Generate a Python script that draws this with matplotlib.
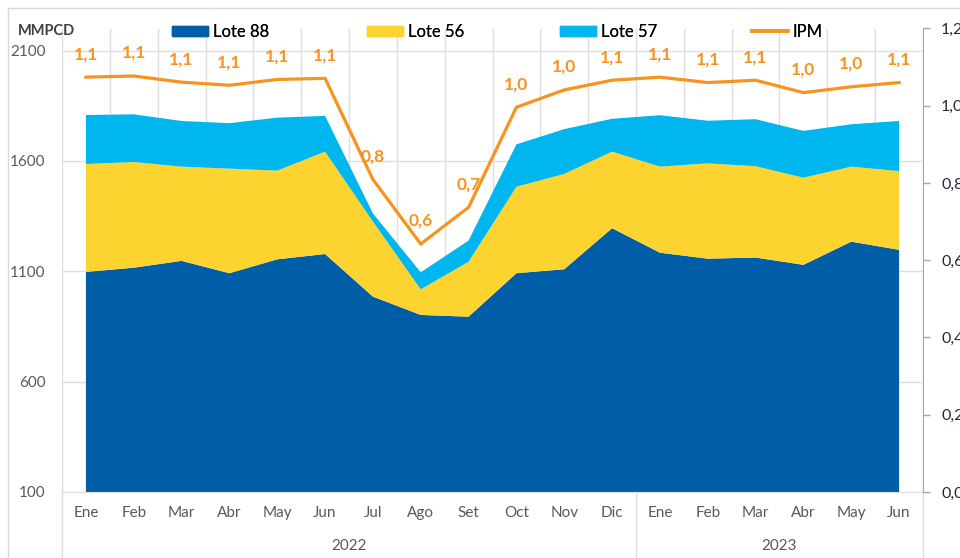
import matplotlib
matplotlib.use("Agg")
import matplotlib.pyplot as plt
import numpy as np
from matplotlib.patches import Patch
from matplotlib.lines import Line2D
from matplotlib.ticker import FuncFormatter

plt.rcParams['font.family'] = ['Lato', 'DejaVu Sans']

months = ["Ene", "Feb", "Mar", "Abr", "May", "Jun", "Jul", "Ago", "Set", "Oct", "Nov", "Dic",
          "Ene", "Feb", "Mar", "Abr", "May", "Jun"]
years = ["2022", "2023"]
year_spans = [(0, 11), (12, 17)]

lote88 = [1097, 1116, 1147, 1091, 1154, 1178, 985, 902, 894, 1091, 1109, 1295,
          1184, 1157, 1162, 1129, 1234, 1197]
lote56 = [489, 479, 427, 474, 402, 464, 340, 116, 249, 392, 432, 347,
          390, 432, 414, 395, 340, 357]
lote57 = [222, 216, 207, 206, 240, 162, 37, 77, 96, 192, 203, 149,
          233, 193, 213, 212, 192, 227]
ipm = [1.074, 1.077, 1.061, 1.053, 1.068, 1.071, 0.809, 0.642, 0.737, 0.996, 1.041, 1.066,
       1.074, 1.060, 1.066, 1.034, 1.049, 1.060]

C88 = "#005EA8"
C56 = "#FDD32F"
C57 = "#00B6EE"
CIPM = "#F7931E"
GRID = "#DEDEDE"
TXT = "#595959"

fig = plt.figure(figsize=(9.6, 5.58), dpi=100)
W, H = 960, 558
x0, x1 = 62, 923
ytop, ybot = 28.5, 491.9
ax = fig.add_axes([x0 / W, 1 - ybot / H, (x1 - x0) / W, (ybot - ytop) / H])

x = np.arange(len(months))
ax.stackplot(x, lote88, lote56, lote57, colors=[C88, C56, C57], linewidth=0, zorder=2)
ax.set_xlim(-0.5, len(months) - 0.5)
ax.set_ylim(100, 2200)
ax.set_yticks([100, 600, 1100, 1600, 2100])
ax.set_xticks(x)
ax.set_xticklabels(months, fontsize=11, color=TXT)
ax.set_xticks(np.arange(-0.5, len(months), 1), minor=True)
ax.grid(True, which='minor', axis='x', color=GRID, lw=1, zorder=0)
ax.grid(True, which='major', axis='y', color=GRID, lw=1, zorder=0)
ax.set_axisbelow(True)
ax.tick_params(axis='x', which='both', length=0, pad=10)
ax.tick_params(axis='y', length=0, pad=12, labelsize=11, labelcolor=TXT)
for s in ['top', 'right', 'left']:
    ax.spines[s].set_visible(False)
ax.spines['bottom'].set_color(GRID)

ax2 = ax.twinx()
ax2.plot(x, ipm, color=CIPM, lw=2.3, zorder=5, solid_joinstyle='miter')
ax2.set_ylim(0, 1.2)
ax2.set_yticks(np.arange(0, 1.21, 0.2))
ax2.yaxis.set_major_formatter(FuncFormatter(lambda v, p: f"{v:.1f}".replace('.', ',')))
ax2.tick_params(axis='y', length=5, width=1, color="#A6A6A6", pad=8, labelsize=11.5,
                labelcolor="#222A35")
for s in ['top', 'left', 'bottom']:
    ax2.spines[s].set_visible(False)
ax2.spines['right'].set_color("#A6A6A6")

for xi, v in zip(x, ipm):
    ax2.annotate(f"{v:.1f}".replace('.', ','), (xi, v), xytext=(0, 23),
                 textcoords='offset pixels', ha='center', va='center',
                 color=CIPM, fontsize=12.5, fontweight='bold')

# multi-level category axis
sep_y = -(H - ybot) / (ybot - ytop)
for xs in [-0.5, 11.5, len(months) - 0.5]:
    ax.add_line(Line2D([xs, xs], [0, sep_y], transform=ax.get_xaxis_transform(),
                       color=GRID, lw=1, clip_on=False))
for yr, (a, b) in zip(years, year_spans):
    ax.text((a + b) / 2, -(546 - ybot) / (ybot - ytop), yr, transform=ax.get_xaxis_transform(),
            ha='center', va='center', fontsize=11, color=TXT)

fig.text(18 / W, 1 - 31 / H, "MMPCD", fontsize=10.5, fontweight='bold', color="#404040",
         ha='left', va='center')

handles = [Patch(color=C88, label="Lote 88"), Patch(color=C56, label="Lote 56"),
           Patch(color=C57, label="Lote 57"), Line2D([], [], color=CIPM, lw=2.6, label="IPM")]
legend_x = [172, 367, 560, 752]
for h, lx in zip(handles, legend_x):
    leg = fig.legend(handles=[h], loc='center left', bbox_to_anchor=(lx / W, 1 - 32 / H),
                     frameon=False, fontsize=12, handlelength=2.15, handleheight=0.6,
                     handletextpad=0.3, borderpad=0, borderaxespad=0)
    fig.add_artist(leg)

# chart frame
fig.add_artist(Line2D([8 / W, 1], [1 - 8 / H, 1 - 8 / H], transform=fig.transFigure,
                      color="#D9D9D9", lw=1))
fig.add_artist(Line2D([8 / W, 8 / W], [0, 1 - 8 / H], transform=fig.transFigure,
                      color="#D9D9D9", lw=1))

fig.savefig("out.png", dpi=100)
